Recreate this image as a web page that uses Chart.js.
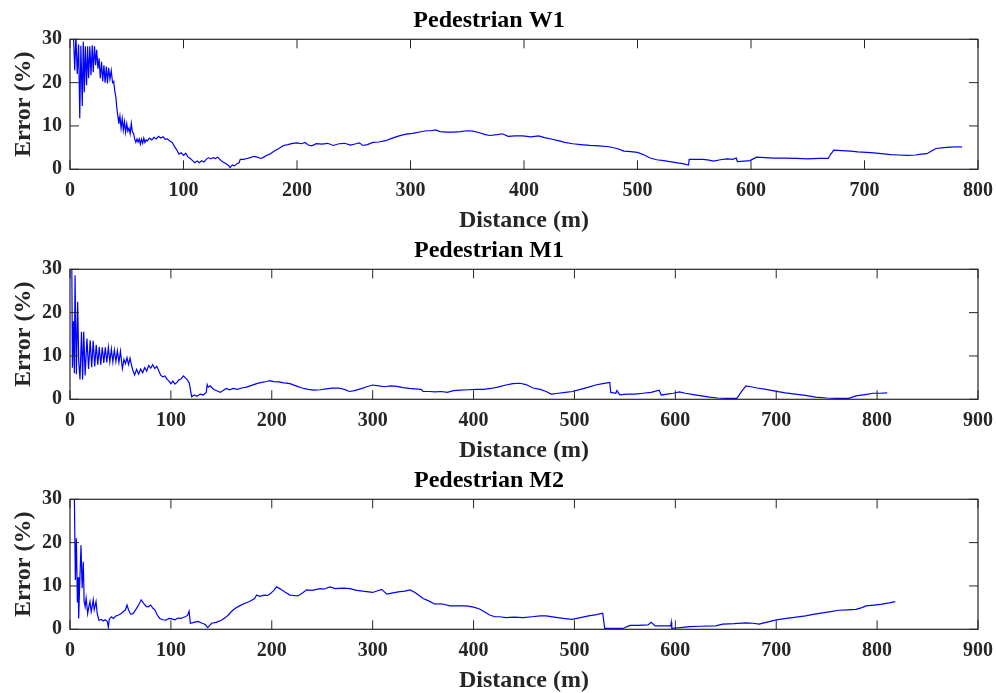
<!DOCTYPE html>
<html>
<head>
<meta charset="utf-8">
<script src="https://cdn.jsdelivr.net/npm/chart.js@4/dist/chart.umd.min.js"></script>
<style>
  html, body { margin: 0; padding: 0; background: #fff; }
  #wrap { position: relative; width: 996px; height: 693px; overflow: hidden; }
  canvas { position: absolute; left: 0; }
</style>
</head>
<body>
<div id="wrap">
  <canvas id="w1" width="996" height="233" style="top:0px"></canvas>
  <canvas id="m1" width="996" height="233" style="top:230px"></canvas>
  <canvas id="m2" width="996" height="233" style="top:460px"></canvas>
</div>
<script>
'use strict';

// ---- data (distance in m, error in %) ----
const yTicks = [0, 10, 20, 30];

const w1Dist = [
  3, 4.2, 5.2, 6.4, 7.6, 8.6, 9.6, 10.8, 11.7, 12.6,
  13.5, 14.6, 15.5, 16.4, 17.5, 18.5, 19.6, 20.5, 21.6, 22.6,
  23.5, 24.6, 25.6, 26.7, 27.8, 28.8, 29.9, 30.9, 32, 33,
  34, 35.2, 36.3, 37.5, 38.5, 39.5, 40.5, 41.3, 42.3, 43,
  44, 45, 46, 47, 48, 49, 50, 51, 52, 53,
  54, 55, 56, 57, 58, 59, 60, 61, 62, 63,
  64, 65, 66, 67, 68, 70, 72, 74, 76, 78,
  80, 82, 84, 86, 88, 90, 92, 94, 96, 98,
  100, 102, 104, 106, 108, 110, 112, 114, 116, 118,
  120, 122, 124, 126, 128, 130, 132, 134, 136, 138,
  140, 141, 143, 145, 147, 149, 150, 153, 156, 159,
  162, 165, 168, 170, 173, 176, 180, 184, 188, 192,
  196, 200, 204, 207, 210, 213, 217, 222, 227, 232,
  237, 242, 247, 252, 255, 258, 262, 267, 272, 278,
  284, 290, 296, 302, 308, 314, 318, 322, 326, 332,
  338, 344, 350, 355, 360, 366, 370, 376, 381, 386,
  392, 399, 406, 413, 418, 424, 430, 436, 443, 450,
  458, 466, 475, 482, 488, 494, 500, 506, 511, 517,
  523, 530, 535, 540, 545, 545.5, 552, 558, 563, 567,
  573, 579, 584, 587, 588, 594, 599, 602, 605, 612,
  620, 630, 640, 650, 660, 668, 670, 673, 680, 688,
  694, 702, 708, 715, 723, 730, 738, 745, 750, 755,
  759, 763, 770, 776, 782, 786
];
const w1Err = [
  31, 22.8, 31, 22, 28.8, 11.8, 28.5, 14.6, 29.5, 17.8,
  28.4, 19.4, 28.4, 21, 28.4, 21.7, 28.6, 22.4, 28.4, 24,
  27.6, 23.2, 25.6, 21, 24.8, 20.3, 24, 20, 23.7, 19.8,
  23.4, 20.8, 22.8, 20, 20.3, 18, 16.5, 14, 12, 10.5,
  12.3, 9.5, 11.7, 9, 11, 8.5, 10.5, 8.8, 9.5, 8.2,
  10.6, 8.6, 8.3, 7, 6.2, 7, 6.3, 7, 5.8, 7,
  6, 7.2, 6.2, 6.8, 6.5, 7.2, 6.8, 7.4, 7, 7.6,
  7.2, 7.5, 6.9, 7, 6.5, 6.2, 5.3, 4.5, 3.5, 3.8,
  3.2, 3.7, 2.8, 2.5, 2, 1.5, 1.9, 1.5, 2, 1.7,
  2.3, 2.7, 2.4, 2.7, 2.5, 2.8, 2.3, 1.8, 1.5, 1.2,
  0.8, 0.4, 1, 0.8, 1.3, 1.5, 2.3, 2.3, 2.5, 2.7,
  3, 2.8, 2.5, 2.7, 3.2, 3.5, 4.2, 4.8, 5.5, 5.7,
  6, 6.1, 5.9, 6.2, 5.6, 5.4, 5.9, 5.8, 6, 5.5,
  5.9, 6, 5.6, 5.9, 6.1, 5.5, 5.7, 6.2, 6.3, 6.6,
  7.2, 7.7, 8.1, 8.3, 8.6, 8.9, 8.9, 9.1, 8.7, 8.6,
  8.6, 8.7, 8.9, 8.8, 8.5, 8, 7.8, 8, 8.2, 7.6,
  7.7, 7.7, 7.5, 7.7, 7.3, 7, 6.6, 6.2, 5.9, 5.7,
  5.5, 5.4, 5.2, 4.8, 4.2, 4.1, 3.9, 3.3, 2.6, 2.2,
  2, 1.7, 1.5, 1.3, 1, 2.3, 2.3, 2.3, 2.1, 1.9,
  2.2, 2.4, 2.3, 2.6, 1.8, 1.9, 2, 2.4, 2.8, 2.7,
  2.6, 2.6, 2.5, 2.4, 2.5, 2.5, 3.4, 4.4, 4.3, 4.2,
  4, 3.9, 3.8, 3.6, 3.4, 3.3, 3.2, 3.3, 3.5, 3.6,
  4.2, 4.8, 5, 5.1, 5.2, 5.1
];

const m1Dist = [
  0.5, 1.8, 2.4, 3.4, 4.3, 5, 6.3, 7.6, 8.6, 9.9,
  11.4, 12.5, 13.6, 15, 16.8, 18.4, 20, 21.5, 23, 24.5,
  26, 27.5, 29, 30.5, 32, 33.5, 35, 36.5, 38, 39.5,
  41, 42.5, 44, 45.5, 47, 48.5, 50, 51.9, 53.5, 55,
  56.5, 58, 59.5, 61, 62.5, 64, 66, 68, 70, 72,
  74, 76, 78, 80, 82, 84, 86, 88, 90, 92,
  94, 96, 98, 100, 102, 104, 106, 108, 110, 112.5,
  114, 116, 118.3, 119.5, 120.6, 123, 126, 129, 132, 135,
  136, 137, 139, 141, 143, 146, 149, 152, 155, 158,
  162, 166, 170, 175, 180, 185, 190, 195, 198, 202,
  207, 212, 218, 224, 230, 236, 242, 248, 254, 260,
  266, 272, 277, 282, 288, 294, 300, 306, 312, 318,
  324, 330, 336, 342, 348, 350, 356, 362, 368, 374,
  380, 387, 395, 403, 410, 417, 424, 432, 439, 446,
  452, 459, 466, 472, 477, 484, 491, 498, 506, 514,
  521, 528, 535, 536, 541, 542, 545, 552, 560, 568,
  576, 584, 586, 592, 598, 604, 610, 618, 626, 634,
  642, 650, 656, 661, 665, 670, 675, 681, 690, 699,
  709, 719, 729, 739, 750, 760, 772, 779, 788, 796,
  803, 810
];
const m1Err = [
  31, 31, 7.3, 18, 6, 28.6, 5.8, 22.5, 9, 4.6,
  15.6, 4.6, 15.6, 5.5, 14, 7, 13.6, 7.4, 13.5, 7.6,
  12.6, 8, 12.1, 8, 12, 8.4, 12, 8.5, 12, 8.6,
  11.6, 8.6, 11.4, 8.7, 11.2, 8.5, 11.1, 7.1, 9.2, 8.2,
  9.6, 8, 9.5, 7.8, 6.6, 5.6, 6.9, 5.8, 7, 6.1,
  7.3, 6.5, 7.8, 7.2, 8, 7.1, 7.6, 6.6, 5.5, 5.2,
  5.4, 4.7, 4.2, 3.6, 4.2, 3.5, 3.9, 4.5, 4.7, 5.4,
  5, 4.6, 3.7, 2, 0.6, 1, 0.7, 1.2, 1, 1.6,
  3.4, 2.8, 3.1, 2.6, 2.2, 1.9, 1.6, 2.1, 2.5, 2.2,
  2.5, 2.3, 2.6, 2.8, 3.2, 3.6, 3.9, 4.1, 4.3, 4.1,
  4, 3.8, 3.6, 3.1, 2.6, 2.3, 2.1, 2.2, 2.4, 2.6,
  2.6, 2.3, 1.8, 2, 2.4, 2.9, 3.3, 3.1, 2.9, 3.1,
  3, 2.7, 2.5, 2.4, 2.3, 1.8, 1.8, 1.7, 1.8, 1.6,
  2, 2.1, 2.2, 2.3, 2.3, 2.5, 2.8, 3.3, 3.6, 3.7,
  3.4, 2.6, 2.3, 1.8, 1.2, 1.4, 1.6, 1.8, 2.3, 2.8,
  3.3, 3.6, 3.9, 1.6, 1.4, 2, 1, 1.2, 1.2, 1.4,
  1.6, 2.1, 1, 1.2, 1.4, 1.7, 1.4, 1.1, 0.8, 0.5,
  0.3, 0.2, 0.2, 0.2, 1.6, 3.1, 2.9, 2.6, 2.3, 1.9,
  1.5, 1.2, 0.9, 0.5, 0.3, 0.2, 0.2, 0.8, 1.1, 1.4,
  1.4, 1.5
];

const m2Dist = [
  2.3, 4.3, 5.3, 6.3, 7.3, 8, 8.6, 9.5, 10.9, 12,
  13.2, 14, 15, 16, 17.5, 18.5, 19.8, 21, 22, 23,
  24, 25.8, 27, 28.7, 31, 33, 35, 37, 38, 39,
  41, 43, 45, 47, 49, 51, 53, 55, 56.5, 58,
  60, 62.5, 65, 67.5, 70.5, 73, 75.5, 77.6, 80, 82,
  84, 86.5, 89, 92, 95, 98, 101, 104, 107, 110,
  114, 116.5, 118, 119.3, 123, 127, 131, 134, 136.5, 138.5,
  140.4, 145, 150, 154, 157, 160, 163.5, 168, 173.5, 178,
  183, 185, 188, 192.6, 196, 199, 202, 204.7, 207, 209.7,
  213, 218, 222, 226, 230, 234.6, 240, 247.8, 252, 257.7,
  263, 270, 277.5, 284, 290, 294, 300, 305, 309, 314,
  320, 327, 332, 337, 342, 346, 350, 356, 361.7, 368,
  376.7, 385, 393, 400, 406, 411, 416, 421, 426, 432,
  440, 449, 458, 466, 472, 480, 489, 498, 506, 514,
  522, 528, 530, 538, 548, 555, 563, 573, 576, 580,
  588, 595.5, 596, 596.5, 605, 614, 625, 640, 647, 658,
  670, 677, 683, 690, 699, 710, 720, 729, 738, 746,
  754, 762, 771, 779, 785, 789, 797, 805, 812, 818
];
const m2Err = [
  31, 31, 11.4, 21, 6.2, 12, 2.5, 9.5, 19.4, 9.5,
  15.6, 6.5, 5.2, 7.2, 3.6, 5, 6.4, 4.1, 5.3, 6.8,
  4.5, 6.4, 3.6, 2.1, 2.3, 1.9, 2.2, 1.8, 0.5, 2.4,
  2.9, 2.5, 3, 3.2, 3.4, 3.7, 4.1, 4.5, 5.6, 4.5,
  3.5, 3.6, 4.5, 5.4, 6.8, 6, 5.3, 5.2, 5.6, 4.9,
  4.5, 3.3, 2.5, 2.2, 2.1, 2.5, 2.4, 2.2, 2.6, 2.5,
  2.9, 3.2, 4.2, 1.4, 1.6, 1.8, 1.4, 1.1, 0.4, 0.9,
  1.4, 1.6, 2.1, 2.7, 3.3, 4.1, 4.8, 5.4, 6, 6.4,
  7.1, 7.9, 7.6, 7.9, 7.8, 8.3, 9, 9.8, 9.5, 9.1,
  8.6, 7.9, 7.8, 7.7, 8.3, 9.1, 9, 9.4, 9.3, 9.8,
  9.4, 9.5, 9.4, 9, 8.8, 8.7, 8.5, 8.9, 9.2, 8.1,
  8.4, 8.7, 8.8, 9.1, 8.5, 7.8, 7.1, 6.5, 5.8, 5.9,
  5.4, 5.4, 5.4, 5.1, 4.7, 4, 3.3, 2.9, 2.9, 2.7,
  2.8, 2.7, 2.9, 3.1, 3.1, 2.8, 2.5, 2.3, 2.7, 3.1,
  3.4, 3.7, 0.2, 0.2, 0.2, 0.9, 0.9, 1, 1.6, 0.8,
  0.8, 0.8, 1.6, 0.2, 0.4, 0.6, 0.7, 0.8, 1.2, 1.3,
  1.5, 1.4, 1.2, 1.6, 2.1, 2.5, 2.8, 3.1, 3.5, 3.8,
  4.1, 4.4, 4.5, 4.6, 5, 5.4, 5.6, 5.8, 6.1, 6.4
];

const serif = "'Liberation Serif', 'Times New Roman', serif";
const axisColor = '#262626';

// MATLAB-like box with inward tick marks on all four sides
const boxTicks = {
  id: 'boxTicks',
  afterDatasetsDraw(chart) {
    const { ctx, chartArea: a, scales: { x, y } } = chart;
    const len = 9;
    ctx.save();
    ctx.strokeStyle = axisColor;
    ctx.lineWidth = 1;
    ctx.beginPath();
    x.ticks.forEach((t) => {
      const px = x.getPixelForValue(t.value);
      ctx.moveTo(px, a.top);
      ctx.lineTo(px, a.top + len);
      ctx.moveTo(px, a.bottom);
      ctx.lineTo(px, a.bottom - len);
    });
    y.ticks.forEach((t) => {
      const py = y.getPixelForValue(t.value);
      ctx.moveTo(a.left, py);
      ctx.lineTo(a.left + len, py);
      ctx.moveTo(a.right, py);
      ctx.lineTo(a.right - len, py);
    });
    ctx.stroke();
    ctx.lineWidth = 1.2;
    ctx.strokeRect(a.left, a.top, a.right - a.left, a.bottom - a.top);
    ctx.restore();
  },
};

// fixed scale boxes so the plot area lands where the reference has it
const fixBox = (w, h) => (s) => {
  if (w !== null) s.width = w;
  if (h !== null) s.height = h;
  s.paddingLeft = 0;
  s.paddingRight = 0;
  s.paddingTop = 0;
  s.paddingBottom = 0;
};

function makePanel(id, title, dist, err, xMax) {
  new Chart(document.getElementById(id), {
    type: 'line',
    data: {
      datasets: [
        {
          data: dist.map((d, i) => ({ x: d, y: err[i] })),
          borderColor: '#0000ff',
          borderWidth: 1.2,
          pointRadius: 0,
          tension: 0,
          fill: false,
          clip: 0,
        },
      ],
    },
    options: {
      responsive: false,
      animation: false,
      devicePixelRatio: 1,
      layout: { padding: { left: 0, right: 18, top: 0, bottom: 0 } },
      plugins: {
        legend: { display: false },
        tooltip: { enabled: false },
        title: {
          display: true,
          text: title,
          color: '#000',
          font: { family: serif, size: 24, weight: 'bold', lineHeight: 1.2 },
          padding: { top: 6.5, bottom: 4 },
        },
      },
      scales: {
        x: {
          type: 'linear',
          min: 0,
          max: xMax,
          afterFit: fixBox(null, 63.7),
          grid: { display: false, drawTicks: false },
          border: { display: false },
          ticks: {
            stepSize: 100,
            autoSkip: false,
            maxRotation: 0,
            padding: 10,
            color: axisColor,
            font: { family: serif, size: 20, weight: 'bold' },
          },
          title: {
            display: true,
            text: 'Distance (m)',
            color: axisColor,
            font: { family: serif, size: 24, weight: 'bold', lineHeight: 1 },
            padding: { top: 0, bottom: 0 },
          },
        },
        y: {
          min: yTicks[0],
          max: yTicks[yTicks.length - 1],
          afterFit: fixBox(70, null),
          afterBuildTicks: (s) => { s.ticks = yTicks.map((v) => ({ value: v })); },
          grid: { display: false, drawTicks: false },
          border: { display: false },
          ticks: {
            padding: 8,
            color: axisColor,
            font: { family: serif, size: 20, weight: 'bold' },
          },
          title: {
            display: true,
            text: 'Error (%)',
            color: axisColor,
            font: { family: serif, size: 24, weight: 'bold', lineHeight: 1.2 },
            padding: { top: 9, bottom: 0 },
          },
        },
      },
    },
    plugins: [boxTicks],
  });
}

makePanel('w1', 'Pedestrian W1', w1Dist, w1Err, 800);
makePanel('m1', 'Pedestrian M1', m1Dist, m1Err, 900);
makePanel('m2', 'Pedestrian M2', m2Dist, m2Err, 900);
</script>
</body>
</html>
